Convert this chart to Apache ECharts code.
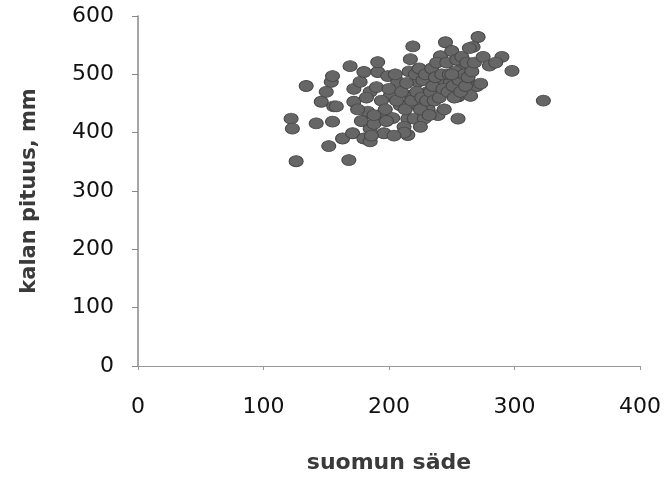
<!DOCTYPE html>
<html>
<head>
<meta charset="utf-8">
<script src="https://cdn.jsdelivr.net/npm/echarts@6/dist/echarts.min.js"></script>
<style>
  html, body { margin: 0; padding: 0; background: #fff; }
</style>
</head>
<body>
<div id="myChart" style="width:668px;height:479px;"></div>
<script>
// suomun säde (x) ja kalan pituus (y), luettu kuvasta
var saade = [
  122, 123, 126, 134, 142, 146, 150, 152, 154, 155, 155, 156, 158, 163, 168, 169,
  171, 172, 172, 177, 180, 180, 183, 185, 185, 185, 191, 191, 193, 196, 199, 201,
  207, 209, 215, 215, 217, 217, 219, 220, 223, 223, 228, 231, 231, 239, 239, 241,
  245, 249, 255, 255, 255, 259, 259, 265, 267, 270, 271, 273, 290, 298, 323,
  175, 178, 182, 188, 190, 194, 197, 200, 203, 205, 206, 210, 212, 213, 214, 216,
  218, 221, 222, 224, 225, 226, 227, 229, 230, 233, 234, 235, 236, 237, 238, 240,
  242, 243, 244, 246, 247, 248, 250, 251, 252, 253, 254, 256, 257, 258, 260, 261,
  262, 263, 264, 266, 268, 275, 280, 285, 212, 204, 198, 188, 186, 225, 232, 250
];
var pituus = [
  424, 407, 351, 480, 416, 453, 470, 377, 487, 419, 497, 445, 445, 390, 353, 514,
  399, 453, 475, 487, 390, 504, 436, 385, 407, 470, 504, 521, 430, 399, 497, 463,
  487, 447, 396, 424, 463, 526, 548, 424, 447, 487, 424, 441, 470, 430, 487, 531,
  555, 487, 424, 462, 463, 497, 518, 463, 547, 480, 564, 484, 530, 506, 455,
  440, 420, 460, 415, 478, 455, 440, 475, 425, 500, 455, 470, 410, 440, 485, 505,
  455, 500, 470, 510, 440, 460, 490, 500, 455, 470, 510, 480, 455, 495, 520, 460,
  500, 475, 440, 520, 470, 500, 540, 480, 460, 505, 525, 490, 470, 530, 500, 480,
  520, 495, 545, 505, 520, 530, 515, 520, 400, 395, 420, 430, 395, 410, 430, 500
];
var xTicks = [0, 100, 200, 300, 400];
var yTicks = [0, 100, 200, 300, 400, 500, 600];

var pisteet = [];
for (var i = 0; i < saade.length; i++) {
  pisteet.push([saade[i], pituus[i]]);
}

var myChart = echarts.init(document.getElementById('myChart'));
myChart.setOption({
  backgroundColor: '#fff',
  animation: false,
  grid: { left: 138, right: 28, top: 16, bottom: 111 },
  xAxis: {
    type: 'value',
    min: xTicks[0], max: xTicks[xTicks.length - 1], interval: 100,
    name: 'suomun säde',
    nameLocation: 'middle',
    nameGap: 86,
    nameTextStyle: { fontFamily: 'DejaVu Sans', fontWeight: 'bold', fontSize: 22, color: '#3a3a3a' },
    axisLine: { lineStyle: { color: '#999', width: 1 } },
    axisTick: { inside: false, length: 4, lineStyle: { color: '#999' } },
    axisLabel: { fontFamily: 'DejaVu Sans', fontSize: 22, color: '#111', margin: 30 },
    splitLine: { show: false }
  },
  yAxis: {
    type: 'value',
    min: yTicks[0], max: yTicks[yTicks.length - 1], interval: 100,
    name: 'kalan pituus, mm',
    nameLocation: 'middle',
    nameGap: 98,
    nameTextStyle: { fontFamily: 'DejaVu Sans', fontWeight: 'bold', fontSize: 21, color: '#3a3a3a' },
    axisLine: { show: true, lineStyle: { color: '#888', width: 1.5 } },
    axisTick: { show: true, length: 6, lineStyle: { color: '#888' } },
    axisLabel: { fontFamily: 'DejaVu Sans', fontSize: 22, color: '#111', margin: 24 },
    splitLine: { show: false }
  },
  series: [{
    type: 'scatter',
    data: pisteet,
    symbol: 'circle',
    symbolSize: [14, 11],
    itemStyle: { color: '#666', borderColor: '#484848', borderWidth: 1, opacity: 1 }
  }]
});
</script>
</body>
</html>
